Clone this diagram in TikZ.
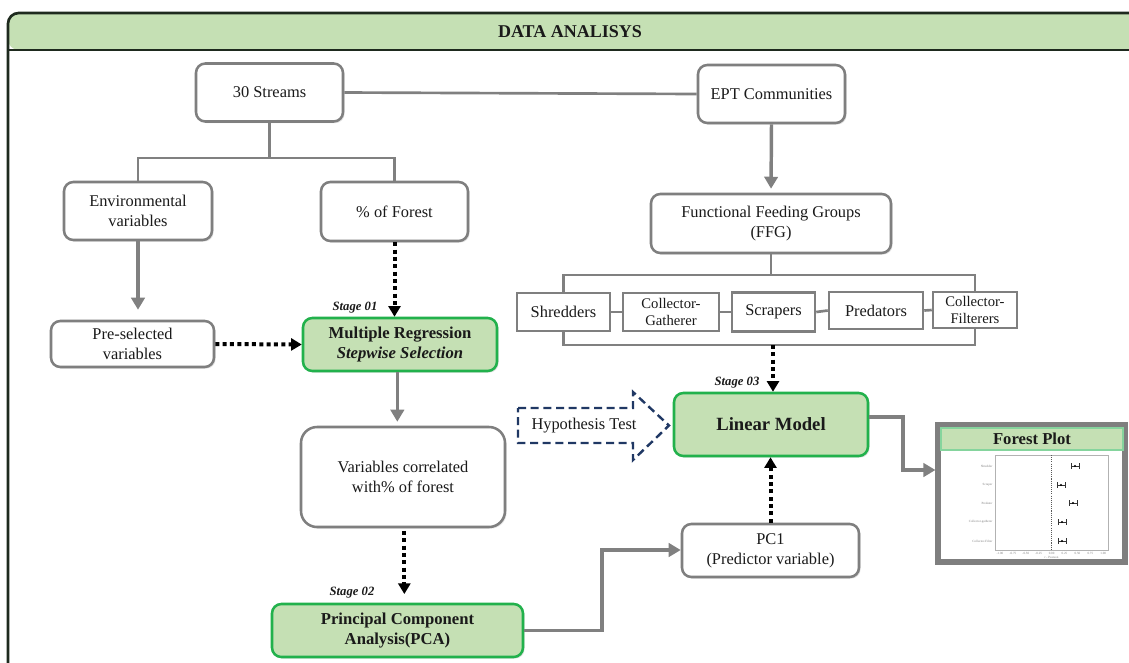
\documentclass[tikz,border=0pt]{standalone}
\usepackage{fontspec}
\setmainfont{Liberation Serif}
\usetikzlibrary{arrows.meta,shadows,calc}
\newcommand\pxu[1]{#1*0.75pt}
\definecolor{hdr}{HTML}{C5E0B4}
\definecolor{grn}{HTML}{22B14C}
\definecolor{boxgray}{HTML}{7F7F7F}
\definecolor{conngray}{HTML}{808080}
\definecolor{framec}{HTML}{1E2A1E}
\definecolor{navy}{HTML}{203864}
\definecolor{txt}{HTML}{1A1A1A}
\tikzset{
 base/.style={align=center, inner sep=0pt, text=txt, font=\fontsize{12.3}{15}\selectfont},
 shad/.style={drop shadow={shadow xshift=1.2pt,shadow yshift=-1.2pt,opacity=0.22}},
 gbox/.style={base, shad, draw=boxgray, line width=1.9pt, rounded corners=7pt, fill=white},
 grbox/.style={base, shad, draw=grn, line width=1.9pt, rounded corners=7pt, fill=hdr, font=\fontsize{12.5}{15}\selectfont\bfseries},
 sbox/.style={base, draw=boxgray, line width=1.9pt, fill=white},
 smalltxt/.style={font=\fontsize{11}{13}\selectfont},
 conn/.style={draw=conngray, line width=2.6pt, -{Triangle[length=9pt,width=10pt]}},
 treeline/.style={draw=conngray, line width=2pt},
 dotarrow/.style={draw=black, line width=3pt, dash pattern=on 3pt off 2.5pt, -{Triangle[length=8pt,width=9pt]}},
 stage/.style={font=\fontsize{9.5}{11}\selectfont\bfseries\itshape, text=txt, inner sep=0pt},
 tiny/.style={font=\fontsize{2.4}{2.8}\selectfont, text=gray, inner sep=0.3pt},
}
\begin{document}
\begin{tikzpicture}[x=0.75pt,y=-0.75pt]
\clip (0,0) rectangle (1129,662);
\fill[white] (0,0) rectangle (1129,662);
% frame and header
\fill[hdr, rounded corners=8pt] (8,50) -- (8,13) -- (1150,13) -- (1150,50) -- cycle;
\draw[framec, line width=2pt, rounded corners=8pt] (8,680) -- (8,13) -- (1150,13);
\draw[framec, line width=2pt] (8,50) -- (1150,50);
\node[font=\fontsize{13.5}{16}\selectfont\bfseries, text=txt] (title) at (570,32) {DATA ANALISYS};

% nodes
\node[gbox, minimum width={\pxu{147}}, minimum height={\pxu{58}}] (streams) at (269.5,92.5) {30 Streams};
\node[gbox, minimum width={\pxu{147}}, minimum height={\pxu{58}}] (ept) at (771.5,94) {EPT Communities};
\node[gbox, minimum width={\pxu{148}}, minimum height={\pxu{58}}] (env) at (138,211) {Environmental\\variables};
\node[gbox, minimum width={\pxu{147}}, minimum height={\pxu{59}}] (forest) at (394.5,211.5) {\% of Forest};
\node[gbox, minimum width={\pxu{163}}, minimum height={\pxu{46}}] (presel) at (132.5,344) {Pre-selected\\variables};
\node[grbox, minimum width={\pxu{194}}, minimum height={\pxu{53}}] (mr) at (400,344.5) {Multiple Regression\\\textit{Stepwise Selection}};
\node[gbox, rounded corners=12pt, minimum width={\pxu{204}}, minimum height={\pxu{100}}] (vc) at (403,477) {Variables correlated\\with\% of forest};
\node[grbox, minimum width={\pxu{251}}, minimum height={\pxu{53}}] (pca) at (397.5,630.5) {Principal Component\\Analysis(PCA)};
\node[gbox, minimum width={\pxu{240}}, minimum height={\pxu{59}}] (ffg) at (771,223.5) {Functional Feeding Groups\\(FFG)};
\node[sbox, minimum width={\pxu{93}}, minimum height={\pxu{38}}] (shred) at (563.5,312) {Shredders};
\node[sbox, smalltxt, minimum width={\pxu{96}}, minimum height={\pxu{38}}] (cg) at (671,312) {Collector-\\Gatherer};
\node[sbox, minimum width={\pxu{83}}, minimum height={\pxu{39}}] (scrap) at (773.5,312) {Scrapers};
\node[sbox, minimum width={\pxu{94}}, minimum height={\pxu{37}}] (pred) at (876,310.5) {Predators};
\node[sbox, smalltxt, minimum width={\pxu{84}}, minimum height={\pxu{36}}] (cf) at (975,310) {Collector-\\Filterers};
\node[grbox, font=\fontsize{14}{16}\selectfont\bfseries, minimum width={\pxu{194}}, minimum height={\pxu{63}}] (lm) at (771,424.5) {Linear Model};
\node[gbox, minimum width={\pxu{177}}, minimum height={\pxu{53}}] (pc1) at (770.5,550.5) {PC1\\(Predictor variable)};

% stage labels
\node[stage] (s1) at (355,308) {Stage 01};
\node[stage] (s2) at (352,593) {Stage 02};
\node[stage] (s3) at (737,383) {Stage 03};

% hypothesis block arrow
\draw[navy, line width=1.8pt, dash pattern=on 6pt off 3.5pt, line join=miter]
  (518,408) -- (633,408) -- (633,392) -- (669,425.5) -- (633,460) -- (633,443) -- (518,443) -- cycle;
\node[base] (hyp) at (584,426) {Hypothesis Test};

% connectors
\coordinate (j1) at (269.5,158);
\draw[treeline] (streams.south) -- (j1);
\draw[treeline] (env.north) |- (j1) -| (forest.north);
\draw[treeline] (streams.east) -- (ept.west);
\draw[conn, shorten >=7.5pt] (env.south) -- (env.south |- presel.north);
\draw[dotarrow] (presel.east) -- (mr.west);
\draw[dotarrow] (forest.south) -- (forest.south |- mr.north);
\draw[conn, shorten >=3pt] ([xshift=-2pt]mr.south) -- ([xshift=-2pt]mr.south |- vc.north);
\draw[dotarrow, shorten <=2pt, shorten >=6.5pt] ([xshift=1pt]vc.south) -- ([xshift=1pt]vc.south |- pca.north);
\draw[conn, shorten >=3pt] (ept.south) -- (ffg.north);

\coordinate (bt) at (771,275);
\coordinate (bb) at (773,345);
\draw[treeline] (ffg.south) -- (ffg.south |- bt);
\draw[treeline] (shred.north) |- (bt) -| (cf.north);
\draw[treeline] (shred.south) |- (bb) -| (cf.south);
\draw[treeline] (shred.east) -- (cg.west);
\draw[treeline] (cg.east) -- (scrap.west);
\draw[treeline] (scrap.east) -- (pred.west);
\draw[treeline] (pred.east) -- (cf.west);
\draw[dotarrow] (bb) -- (bb |- lm.north);
\draw[dotarrow] (pc1.north) -- (pc1.north |- lm.south);

\coordinate (k1) at (602,550);
\draw[conn] (pca.east) -| (k1) -- (k1 -| pc1.west);

% forest plot
\node[draw=boxgray, line width=3.8pt, fill=white, minimum width={\pxu{187}}, minimum height={\pxu{137}}, inner sep=0pt] (fp) at (1031.5,493.5) {};
\coordinate (k2) at (903,417);
\coordinate (k3) at (903,470);
\draw[conn] (k2 -| lm.east) -- (k2) -- (k3) -- (k3 -| fp.west);
\node[fill=hdr, draw=grn!55, line width=0.8pt, minimum width={\pxu{182}}, minimum height={\pxu{22}}, inner sep=0pt, font=\fontsize{12.5}{14}\selectfont\bfseries, text=txt] (fph) at (1032,439) {Forest Plot};
\draw[gray!60, line width=0.4pt] (995,455) rectangle (1108,550);
\draw[gray!70!black, line width=0.6pt, dash pattern=on 0.8pt off 0.8pt] (1051.5,455) -- (1051.5,550);
\foreach \yy/\xx/\lab in {466/1075/Shredder, 485/1061/Scraper, 503/1073/Predator, 522/1062/Collector-gatherer, 541/1062/Collector-Filter}{
  \draw[black!80, line width=0.5pt] (\xx-4,\yy) -- (\xx+4,\yy);
  \draw[black!80, line width=0.5pt] (\xx-4,\yy-3) -- (\xx-4,\yy+3);
  \draw[black!80, line width=0.5pt] (\xx+4,\yy-3) -- (\xx+4,\yy+3);
  \fill[black] (\xx,\yy) circle (1.2);
  \node[tiny, anchor=east] at (993,\yy) {\lab};
}
\foreach \i/\lab in {0/-1.00,1/-0.75,2/-0.50,3/-0.25,4/0.00,5/0.25,6/0.50,7/0.75,8/1.00}{
  \node[tiny] at (1000+\i*12.9,553.5) {\lab};
}
\node[tiny] at (1051.5,557.5) {r - Pearson};
\end{tikzpicture}
\end{document}
